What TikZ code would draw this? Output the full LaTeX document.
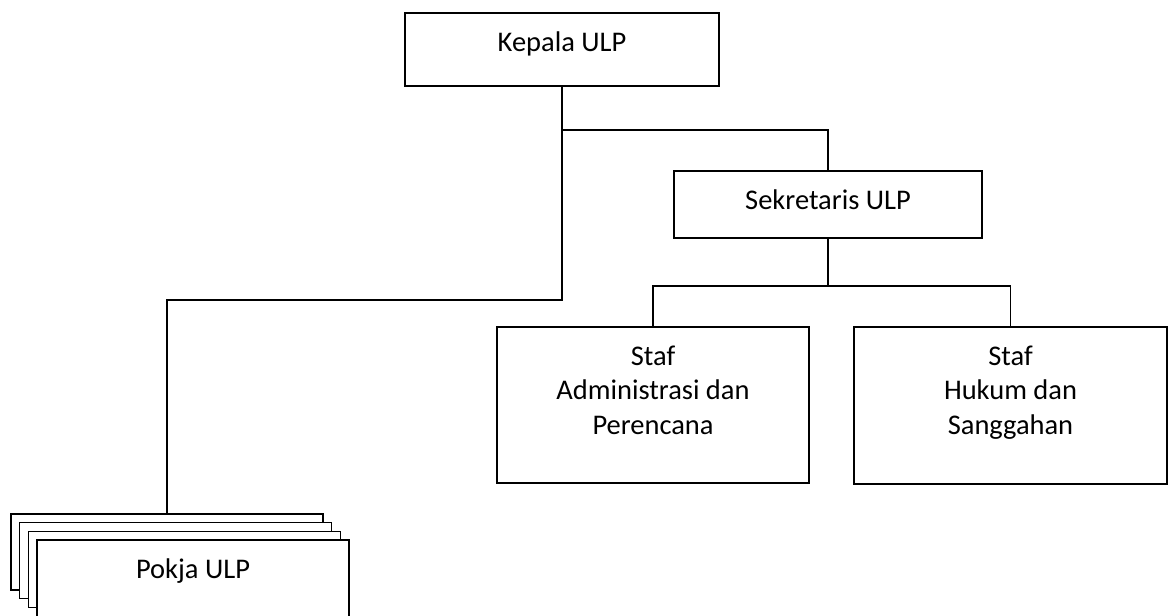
\documentclass[tikz,border=0pt]{standalone}
\usepackage{fontspec}
\setmainfont{Carlito}
\usepackage{tikz}

\newcommand{\lines}[1]{\begin{tabular}[t]{@{}c@{}}#1\end{tabular}}

\begin{document}
\begin{tikzpicture}[line width=1.1pt,
        box/.style={draw, fill=white, anchor=north, inner sep=0pt, text height=0.77cm, font=\fontsize{16.2}{19.5}\selectfont}]
        \useasboundingbox (0,0) rectangle (23.36,-12.3);
        \begin{scope}
        \node [box, minimum width=6.28cm, text depth=0.69cm] (kepala) at (11.24,-0.24) {Kepala ULP};
        \node [box, minimum width=6.16cm, text depth=0.57cm] (sekretaris) at (16.56,-3.4) {Sekretaris ULP};
        \node [box, minimum width=6.24cm, text depth=2.35cm] (admin) at (13.06,-6.52) {\lines{Staf\\Administrasi dan\\Perencana}};
        \node [box, minimum width=6.26cm, text depth=2.37cm] (hukum) at (20.21,-6.52) {\lines{Staf\\Hukum dan\\Sanggahan}};
        \foreach \i/\x/\y in {1/3.34/-10.26, 2/3.51/-10.43, 3/3.69/-10.61}{
            \node [box, minimum width=6.24cm, text depth=0.75cm] (pokja\i) at (\x,\y) {};
        }
        \node [box, minimum width=6.24cm, text depth=0.85cm] (pokja) at (3.86,-10.78) {Pokja ULP};
        \end{scope}
        \draw (kepala.south) -- ++(0,-4.26) -| (pokja1.north);
        \draw (kepala.south) ++(0,-0.86) -| (sekretaris.north);
        \draw (sekretaris.south) -- ++(0,-0.94) coordinate (fork);
        \draw (admin.north) |- (fork) -| (hukum.north);
    \end{tikzpicture}
\end{document}
